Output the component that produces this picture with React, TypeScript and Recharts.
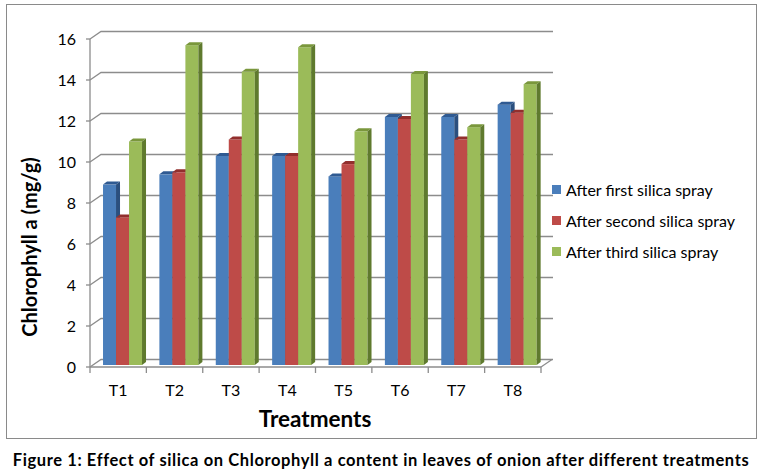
import React from 'react';
import { BarChart, Bar, XAxis, YAxis, CartesianGrid, Legend, Label } from 'recharts';

const CATEGORIES = ['T1', 'T2', 'T3', 'T4', 'T5', 'T6', 'T7', 'T8'];
const FIRST_SPRAY = [8.8, 9.3, 10.2, 10.2, 9.2, 12.1, 12.1, 12.7];
const SECOND_SPRAY = [7.2, 9.4, 11.0, 10.2, 9.8, 12.0, 11.0, 12.3];
const THIRD_SPRAY = [10.9, 15.6, 14.3, 15.5, 11.4, 14.2, 11.6, 13.7];
const Y_TICKS = [0, 2, 4, 6, 8, 10, 12, 14, 16];

const data = CATEGORIES.map((name, i) => ({
  name,
  first: FIRST_SPRAY[i],
  second: SECOND_SPRAY[i],
  third: THIRD_SPRAY[i],
}));

const FONT = 'Lato, "Open Sans", sans-serif';
const GRID = '#8c8c8c';
const W = 762;
const H = 440;
const MARGIN = { top: 39, right: 221, left: 50, bottom: 43 };
const PLOT_W = W - MARGIN.left - 40 - MARGIN.right;
const WALL_DX = 11;
const WALL_DY = 7.5;

const COLORS = {
  first: { front: '#4a7ebb', top: '#2f5a92', side: '#2b4f7e' },
  second: { front: '#be4b48', top: '#922f2d', side: '#8a2c2a' },
  third: { front: '#9bbb59', top: '#7a973c', side: '#5f7a2e' },
};

// column with a small top and side face, like the old Excel 3D look
const makeBar = (c: { front: string; top: string; side: string }) => (props: any) => {
  const { x, y, width, height } = props;
  if (height == null || width == null) return <g />;
  const fx = x + 4;
  const t = y - 2;
  const b = y + height - 2;
  const d = 4;
  const e = 3;
  return (
    <g>
      <rect x={fx} y={t} width={width} height={b - t} fill={c.front} />
      <polygon points={`${fx},${t} ${fx + d},${t - e} ${fx + width + d},${t - e} ${fx + width},${t}`} fill={c.top} />
      <polygon points={`${fx + width},${t} ${fx + width + d},${t - e} ${fx + width + d},${b - e} ${fx + width},${b}`} fill={c.side} />
    </g>
  );
};

const wallLine = (props: any) => {
  const { x1, y1, x2, key } = props;
  return (
    <polyline
      key={key}
      points={`${x1},${y1} ${x1 + WALL_DX},${y1 - WALL_DY} ${x2 + WALL_DX + 1},${y1 - WALL_DY}`}
      fill="none"
      stroke={GRID}
      strokeWidth={1.3}
    />
  );
};

const XTick = (props: any) => {
  const { x, y, payload, index } = props;
  const band = PLOT_W / CATEGORIES.length;
  const last = index === CATEGORIES.length - 1;
  return (
    <g>
      <line x1={x - band / 2} y1={y} x2={x - band / 2} y2={y + 6} stroke={GRID} strokeWidth={1.3} />
      {last && (
        <>
          <line x1={x + band / 2} y1={y} x2={x + band / 2} y2={y + 6} stroke={GRID} strokeWidth={1.3} />
          <line x1={x + band / 2} y1={y} x2={x + band / 2 + WALL_DX} y2={y - WALL_DY} stroke={GRID} strokeWidth={1.3} />
        </>
      )}
      <text x={x} y={y + 29} textAnchor="middle" fontFamily={FONT} fontSize={16} fill="#000">
        {payload.value}
      </text>
    </g>
  );
};

const LegendBox = ({ payload }: any) => (
  <div style={{ fontFamily: FONT, fontSize: 16, color: '#000' }}>
    {(payload || []).map((entry: any) => (
      <div key={entry.value} style={{ display: 'flex', alignItems: 'center', height: 31 }}>
        <span style={{ width: 9, height: 9, background: entry.color, marginRight: 5, display: 'inline-block' }} />
        {entry.value}
      </div>
    ))}
  </div>
);

export default function App() {
  return (
    <div style={{ position: 'relative', width: W, height: 476, background: '#fff' }}>
      <style>{`body{margin:0}`}</style>
      <div
        style={{
          position: 'absolute',
          left: 6,
          top: 4,
          width: 749,
          height: 433,
          border: '1.5px solid #8a8a8a',
        }}
      />
      <div style={{ position: 'absolute', left: 0, top: 0 }}>
        <BarChart width={W} height={H} data={data} margin={MARGIN} barCategoryGap="16%" barGap={0}>
          <CartesianGrid vertical={false} horizontal={wallLine} />
          <XAxis
            dataKey="name"
            axisLine={{ stroke: GRID, strokeWidth: 1.3 }}
            tickLine={false}
            tickSize={0}
            tickMargin={0}
            height={30}
            tick={<XTick />}
            interval={0}
          >
            <Label
              content={() => (
                <text x={315} y={427} textAnchor="middle" fontFamily={FONT} fontWeight="bold" fontSize={22.5} fill="#000">
                  Treatments
                </text>
              )}
            />
          </XAxis>
          <YAxis
            width={40}
            domain={[0, 16]}
            ticks={Y_TICKS}
            axisLine={{ stroke: GRID, strokeWidth: 1.3 }}
            tickLine={{ stroke: GRID, strokeWidth: 1.3 }}
            tickSize={4}
            tickMargin={10}
            tick={{ fontFamily: FONT, fontSize: 16, fill: '#000' }}
          >
            <Label
              content={() => (
                <text
                  x={37}
                  y={247}
                  transform="rotate(-90 37 247)"
                  textAnchor="middle"
                  fontFamily={FONT}
                  fontWeight="bold"
                  fontSize={20}
                  fill="#000"
                >
                  Chlorophyll a (mg/g)
                </text>
              )}
            />
          </YAxis>
          <Legend
            layout="vertical"
            align="center"
            verticalAlign="middle"
            width={200}
            content={<LegendBox />}
            wrapperStyle={{ left: 552, top: 174, width: 200 }}
          />
          <Bar dataKey="first" name="After first silica spray" fill={COLORS.first.front} shape={makeBar(COLORS.first)} isAnimationActive={false} />
          <Bar dataKey="second" name="After second silica spray" fill={COLORS.second.front} shape={makeBar(COLORS.second)} isAnimationActive={false} />
          <Bar dataKey="third" name="After third silica spray" fill={COLORS.third.front} shape={makeBar(COLORS.third)} isAnimationActive={false} />
        </BarChart>
      </div>
      <div
        style={{
          position: 'absolute',
          left: 0,
          top: 450,
          width: W,
          textAlign: 'center',
          fontFamily: FONT,
          fontWeight: 'bold',
          fontSize: 16.5,
          letterSpacing: 0.6,
          color: '#000',
        }}
      >
        Figure 1: Effect of silica on Chlorophyll a content in leaves of onion after different treatments
      </div>
    </div>
  );
}
